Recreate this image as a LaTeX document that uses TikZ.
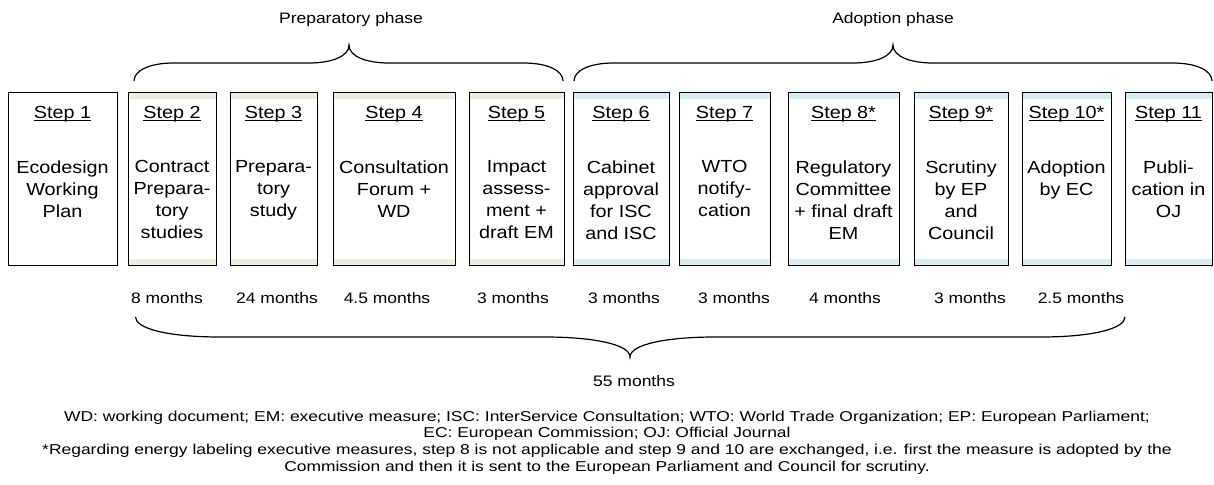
\documentclass[tikz,border=0pt]{standalone}
\usepackage{fontspec}
\setmainfont{Liberation Sans}
\newfontfamily\boxf[FakeStretch=1.13]{Liberation Sans}
\newfontfamily\labf[FakeStretch=1.15]{Liberation Sans}
\newfontfamily\notf[FakeStretch=1.22]{Liberation Sans}
\usetikzlibrary{shadows,backgrounds,calc}
\definecolor{stripG}{HTML}{EAEDE0}
\definecolor{stripB}{HTML}{DAEBF2}
\newcommand\ulstep[1]{\setbox0\hbox{#1}\rlap{\rule[-3pt]{\wd0}{1pt}}\box0}
\newcommand\mkbox[6]{%
  \node[stepbox,minimum width=#3pt] (b#1) at (#2,179) {};
  \fill[#4] (b#1.north west) rectangle ($(b#1.north east)+(0,6)$);
  \fill[#4] (b#1.south west) rectangle ($(b#1.south east)+(0,-6)$);
  \draw[boxline] (b#1.north west) rectangle (b#1.south east);
  \node[steplbl] (s#1) at ($(b#1.north)+(0,13)$) {\ulstep{#5}};
  \node[bodytxt] (t#1) at ($(b#1.north)+(0,67.5)$) {#6};
}
\newcommand\mkarrow[2]{%
  \fill[black] ($(b#1.east)+(-1,-12)$) -- ($(b#2.west)+(-4,-12)$) -- ($(b#2.west)+(-4,-26)$)
    -- ($(b#2.west)+(26,-2)$) -- ($(b#2.west)+(-4,22)$) -- ($(b#2.west)+(-4,8)$)
    -- ($(b#1.east)+(-1,8)$) -- cycle;
}
% brace: x0, xm, x1, yend, yflat, ytip, shoulder
\newcommand\bracep[7]{%
  \draw[bracel] (#1,#4) .. controls (#1,#5+0.45*#4-0.45*#5) and (#1+0.35*#7,#5) .. (#1+#7,#5)
    -- (#2-#7,#5) .. controls (#2-0.45*#7,#5) and (#2,#5+0.35*#6-0.35*#5) .. (#2,#6)
    .. controls (#2,#5+0.35*#6-0.35*#5) and (#2+0.45*#7,#5) .. (#2+#7,#5)
    -- (#3-#7,#5) .. controls (#3-0.35*#7,#5) and (#3,#5+0.45*#4-0.45*#5) .. (#3,#4);
}
\begin{document}
\begin{tikzpicture}[x=1pt,y=-1pt,
  stepbox/.style={minimum height=172pt, inner sep=0pt, outer sep=0pt, fill=white, draw=none,
    drop shadow={shadow xshift=1.3pt, shadow yshift=-1.3pt, fill=black!60, opacity=1}},
  boxline/.style={draw=black, line width=1pt},
  steplbl/.style={font=\boxf\fontsize{17.5}{22}\selectfont, inner sep=0pt, anchor=north},
  bodytxt/.style={font=\boxf\fontsize{17.5}{22}\selectfont, inner sep=0pt, anchor=north, align=center},
  monthlbl/.style={font=\labf\fontsize{15.2}{18}\selectfont, inner sep=0pt, anchor=base},
  notetxt/.style={font=\notf\fontsize{14.3}{16.8}\selectfont, inner sep=0pt, anchor=north, align=center},
  bracel/.style={draw=black, line width=1.2pt}]
\useasboundingbox[fill=white] (0,0) rectangle (1214,484);

\mkbox{1}{62.5}{109}{white}{Step 1}{Ecodesign\\Working\\Plan}
\mkbox{2}{172}{88}{stripG}{Step 2}{Contract\\Prepara-\\tory\\studies}
\mkbox{3}{273.5}{87}{stripG}{Step 3}{Prepara-\\tory\\study}
\mkbox{4}{394}{122}{stripG}{Step 4}{Consultation\\Forum +\\WD}
\mkbox{5}{516.5}{95}{stripG}{Step 5}{Impact\\assess-\\ment +\\draft EM}
\mkbox{6}{621}{96}{stripB}{Step 6}{Cabinet\\approval\\for ISC\\and ISC}
\mkbox{7}{724.5}{91}{stripB}{Step 7}{WTO\\notify-\\cation}
\mkbox{8}{843.5}{111}{stripB}{Step 8*}{Regulatory\\Committee\\+ final draft\\EM}
\mkbox{9}{961}{94}{stripB}{Step 9*}{Scrutiny\\by EP\\and\\Council}
\mkbox{10}{1066.5}{89}{stripB}{Step 10*}{Adoption\\by EC}
\mkbox{11}{1168.5}{87}{stripB}{Step 11}{Publi-\\cation in\\OJ}

\begin{scope}[on background layer]
\mkarrow{1}{2}\mkarrow{2}{3}\mkarrow{3}{4}\mkarrow{4}{5}\mkarrow{5}{6}
\mkarrow{6}{7}\mkarrow{7}{8}\mkarrow{8}{9}\mkarrow{9}{10}\mkarrow{10}{11}
\end{scope}

% phase braces and labels
\bracep{134}{349}{563}{81}{63}{45}{40}
\bracep{574}{893}{1212}{81}{63}{45}{40}
\node[monthlbl] (pp) at (351,24) {Preparatory phase};
\node[monthlbl] (ap) at (893,24) {Adoption phase};

% durations
\node[monthlbl] (m2) at (167,303.5) {8 months};
\node[monthlbl] (m3) at (277,303.5) {24 months};
\node[monthlbl] (m4) at (387,303.5) {4.5 months};
\node[monthlbl] (m5) at (513,303.5) {3 months};
\node[monthlbl] (m6) at (624,303.5) {3 months};
\node[monthlbl] (m7) at (734,303.5) {3 months};
\node[monthlbl] (m8) at (845,303.5) {4 months};
\node[monthlbl] (m9) at (970,303.5) {3 months};
\node[monthlbl] (m10) at (1081,303.5) {2.5 months};

\bracep{135.5}{630}{1125}{317}{337}{357}{85}
\node[monthlbl] (tot) at (634,386.5) {55 months};

\node[notetxt] (notes) at (607,410.5) {WD: working document; EM: executive measure; ISC: InterService Consultation; WTO: World Trade Organization; EP: European Parliament;\\
EC: European Commission; OJ: Official Journal\\
*Regarding energy labeling executive measures, step 8 is not applicable and step 9 and 10 are exchanged, i.e. first the measure is adopted by the\\
Commission and then it is sent to the European Parliament and Council for scrutiny.};
\end{tikzpicture}
\end{document}
